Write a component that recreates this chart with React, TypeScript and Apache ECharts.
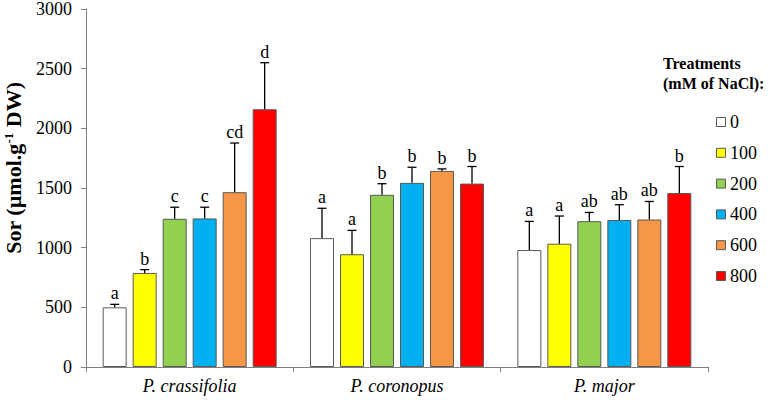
import React, { useEffect, useRef } from "react";
import * as echarts from "echarts";

const categories = ["P. crassifolia", "P. coronopus", "P. major"];
const treatments = ["0", "100", "200", "400", "600", "800"];
const colors = ["#FFFFFF", "#FFFF00", "#92D050", "#00B0F0", "#F79646", "#FF0000"];

// means per treatment, across species
const means0 = [500, 1080, 980];
const means100 = [788, 945, 1033];
const means200 = [1242, 1443, 1222];
const means400 = [1245, 1543, 1232];
const means600 = [1465, 1643, 1236];
const means800 = [2160, 1537, 1458];

const sd0 = [25, 250, 240];
const sd100 = [28, 200, 232];
const sd200 = [97, 93, 73];
const sd400 = [94, 131, 128];
const sd600 = [412, 17, 151];
const sd800 = [390, 143, 222];

const letters0 = ["a", "a", "a"];
const letters100 = ["b", "a", "a"];
const letters200 = ["c", "b", "ab"];
const letters400 = ["c", "b", "ab"];
const letters600 = ["cd", "b", "ab"];
const letters800 = ["d", "b", "b"];

const yTicks = [0, 500, 1000, 1500, 2000, 2500, 3000];

const allMeans = [means0, means100, means200, means400, means600, means800];
const allSd = [sd0, sd100, sd200, sd400, sd600, sd800];
const allLetters = [letters0, letters100, letters200, letters400, letters600, letters800];

const FONT = "Liberation Serif";

export default function App() {
  const ref = useRef<HTMLDivElement>(null);
  useEffect(() => {
    if (!ref.current) return;
    document.body.style.margin = "0";
    const chart = echarts.init(ref.current, null, { renderer: "svg" });
    const barWidth = 24;
    const step = 30;

    const barSeries = treatments.map((t, i) => ({
      name: t,
      type: "bar",
      barWidth,
      barGap: "25%",
      data: allMeans[i],
      itemStyle: { color: colors[i], borderColor: "#595959", borderWidth: 1 },
      z: 2,
    }));

    const errSeries = treatments.map((t, i) => ({
      name: "err" + t,
      type: "custom",
      z: 3,
      data: categories.map((_, k) => [k, allMeans[i][k], allSd[i][k]]),
      renderItem: (params: any, api: any) => {
        const x = api.value(0);
        const m = api.value(1);
        const sd = api.value(2);
        const c = api.coord([x, m]);
        const top = api.coord([x, m + sd]);
        const cx = c[0] + (i - 2.5) * step;
        const letter = allLetters[i][params.dataIndex];
        return {
          type: "group",
          children: [
            {
              type: "line",
              shape: { x1: cx, y1: c[1], x2: cx, y2: top[1] },
              style: { stroke: "#000", lineWidth: 1.3 },
            },
            {
              type: "line",
              shape: { x1: cx - 4.5, y1: top[1], x2: cx + 4.5, y2: top[1] },
              style: { stroke: "#000", lineWidth: 1.3 },
            },
            {
              type: "text",
              x: cx,
              y: top[1] - 2,
              style: {
                text: letter,
                fill: "#000",
                font: `18px '${FONT}', serif`,
                align: "center",
                verticalAlign: "bottom",
              },
            },
          ],
        };
      },
    }));

    // legend drawn as graphic (icons + serif labels)
    const legendX = 716;
    const legendY0 = 122;
    const legendStep = 30.8;
    const legendItems: any[] = [];
    treatments.forEach((t, i) => {
      const cy = legendY0 + i * legendStep;
      legendItems.push({
        type: "rect",
        shape: { x: legendX + 0.5, y: cy - 4.5, width: 9, height: 9 },
        style: { fill: colors[i], stroke: "#595959", lineWidth: 1 },
      });
      legendItems.push({
        type: "text",
        x: legendX + 14,
        y: cy,
        style: {
          text: t,
          fill: "#000",
          font: `18px '${FONT}', serif`,
          align: "left",
          verticalAlign: "middle",
        },
      });
    });

    chart.setOption({
      animation: false,
      backgroundColor: "#fff",
      textStyle: { fontFamily: FONT },
      grid: { left: 86, right: 60, top: 8, bottom: 33, containLabel: false },
      xAxis: {
        type: "category",
        data: categories,
        axisLine: { lineStyle: { color: "#7f7f7f", width: 1 } },
        axisTick: { show: true, alignWithLabel: false, length: 5, lineStyle: { color: "#7f7f7f" } },
        axisLabel: {
          color: "#000",
          fontFamily: FONT,
          fontStyle: "italic",
          fontSize: 18,
          margin: 10,
        },
        splitLine: { show: false },
      },
      yAxis: {
        type: "value",
        min: 0,
        max: 3000,
        interval: 500,
        axisLine: { show: true, lineStyle: { color: "#7f7f7f", width: 1 } },
        axisTick: { show: true, length: 5, lineStyle: { color: "#7f7f7f" } },
        axisLabel: {
          color: "#000",
          fontFamily: FONT,
          fontSize: 18,
          margin: 14,
          formatter: (v: number) => (yTicks.includes(v) ? String(v) : ""),
        },
        splitLine: { show: false },
      },
      graphic: [
        {
          type: "text",
          left: 716 - 53,
          top: 53,
          style: {
            text: "Treatments\n(mM of NaCl):",
            fill: "#000",
            font: `bold 16px '${FONT}', serif`,
            lineHeight: 20,
            align: "center",
            width: 106,
          },
        },
        {
          type: "text",
          x: 13,
          y: 168,
          rotation: Math.PI / 2,
          style: {
            text: "Sor (µmol.g{sup|-1} DW)",
            fill: "#000",
            font: `bold 22px '${FONT}', serif`,
            align: "center",
            verticalAlign: "middle",
            rich: {
              sup: {
                font: `bold 13px '${FONT}', serif`,
                fill: "#000",
                verticalAlign: "top",
                padding: [0, 0, 10, 0],
              },
            },
          },
        },
        ...legendItems,
      ],
      series: [...barSeries, ...errSeries],
    });
    return () => chart.dispose();
  }, []);
  return <div ref={ref} style={{ width: 768, height: 400 }} />;
}
